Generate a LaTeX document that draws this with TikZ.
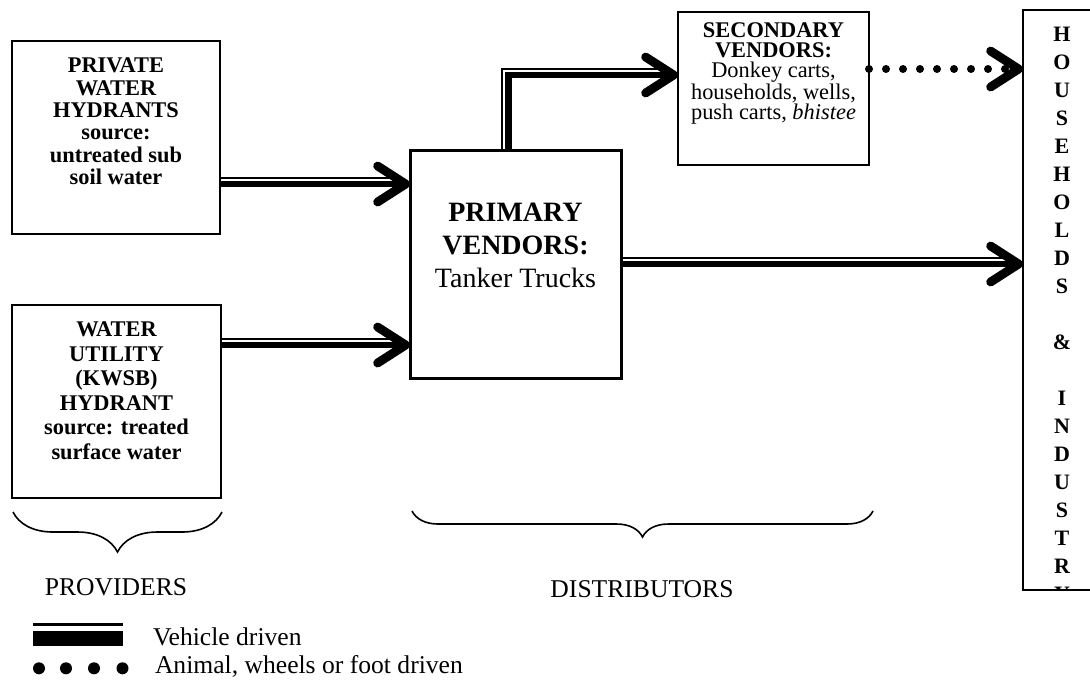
\documentclass[tikz,border=0pt]{standalone}
\usepackage{fontspec}
\setmainfont{Liberation Serif}
\usetikzlibrary{arrows.meta,decorations.pathreplacing}
\begin{document}
\begin{tikzpicture}[x=0.5pt,y=-0.5pt,
  box/.style={draw, line width=1pt, inner sep=0pt, outer sep=0pt},
  txt/.style={inner sep=0pt, outer sep=0pt, align=center},
  chev/.tip={Straight Barb[length=14pt,width=18pt,line width=4.4pt,round]},
  heavy/.style={line width=3.2pt, -chev},
  light/.style={line width=1pt, shorten >=10pt},
  dotline/.style={line width=4pt, line cap=round, dash pattern=on 0pt off 8.5pt, -chev},
  brc/.style={decorate, line width=0.8pt},
  lbl/.style={font=\fontsize{12.8}{15}\selectfont, inner sep=0pt, outer sep=0pt}
]
\useasboundingbox (0,0) rectangle (1090,681);

% boxes
\node[box, minimum width=104pt, minimum height=96.5pt] (pwh) at (116,137.5) {};
\node[txt, anchor=north, font=\bfseries\fontsize{11.2}{11.15}\selectfont] (pwht) at (116,58.2)
  {PRIVATE\\WATER\\HYDRANTS\\source:\\untreated sub\\soil water};

\node[box, minimum width=104.5pt, minimum height=96.5pt] (wu) at (116.5,401.5) {};
\node[txt, anchor=north, font=\bfseries\fontsize{11.2}{12.25}\selectfont] (wut) at (116.5,322)
  {WATER\\UTILITY\\(KWSB)\\HYDRANT\\source: treated\\surface water};

\node[box, line width=1.5pt, minimum width=105.5pt, minimum height=114pt] (primary) at (515.5,264) {};
\node[txt, anchor=north, font=\fontsize{14}{16.5}\selectfont] (primt) at (515.5,203.5)
  {\textbf{PRIMARY}\\\textbf{VENDORS:}\\Tanker Trucks};

\node[box, minimum width=95.5pt, minimum height=76.5pt] (sec) at (773.5,88.5) {};
\node[txt, anchor=north, font=\fontsize{11.2}{10}\selectfont] (sect) at (773.5,22.5)
  {\textbf{SECONDARY}\\\textbf{VENDORS:}\\Donkey carts,\\households, wells,\\push carts, \textit{bhistee}};

\node[box, minimum width=38.5pt, minimum height=290pt] (hh) at (1061.5,300) {};
\begin{scope}
  \clip (hh.south west) rectangle (hh.north east);
  \node[txt, anchor=north, font=\bfseries\fontsize{11}{14}\selectfont] (hht) at (1062,27.4)
    {H\\O\\U\\S\\E\\H\\O\\L\\D\\S\\\mbox{}\\\&\\\mbox{}\\I\\N\\D\\U\\S\\T\\R\\Y};
\end{scope}

% connectors
\draw[heavy] ([yshift=-23.25pt]pwh.east) -- ([yshift=-23.25pt]pwh.east -| primary.west);
\draw[light] ([yshift=-20.1pt]pwh.east) -- ([yshift=-20.1pt]pwh.east -| primary.west);

\draw[heavy] ([yshift=28.25pt]wu.east) -- ([yshift=28.25pt]wu.east -| primary.west);
\draw[light] ([yshift=31.4pt]wu.east) -- ([yshift=31.4pt]wu.east -| primary.west);

\draw[heavy] (primary.east) -- (primary.east -| hh.west);
\draw[light] ([yshift=3.15pt]primary.east) -- ([yshift=3.15pt]primary.east -| hh.west);

\draw[heavy] ([xshift=-3.5pt]primary.north) |- ([yshift=6.75pt]sec.west);
\draw[light] ([xshift=-6.65pt]primary.north) |- ([yshift=9.9pt]sec.west);

\draw[dotline] ([yshift=9.75pt]sec.east) -- ([yshift=9.75pt]sec.east -| hh.west);

% braces and labels
\draw[brc, decoration={brace, mirror, amplitude=20pt}] (13,512) -- (222,512);
\draw[brc, decoration={brace, mirror, amplitude=13pt}] (412,511) -- (873,511);
\node[lbl, anchor=base] (prov) at (116,595) {PROVIDERS};
\node[lbl, anchor=base] (dist) at (642,597) {DISTRIBUTORS};

% legend
\draw[line width=1.75pt] (33,624.5) -- (123,624.5);
\fill (33,631) rectangle (123,646);
\foreach \x in {39,66,94,122.5} \fill (\x,668.3) circle[radius=3pt];
\node[lbl, anchor=base west] (leg1) at (153,645) {Vehicle driven};
\node[lbl, anchor=base west] (leg2) at (155,673) {Animal, wheels or foot driven};
\end{tikzpicture}
\end{document}
